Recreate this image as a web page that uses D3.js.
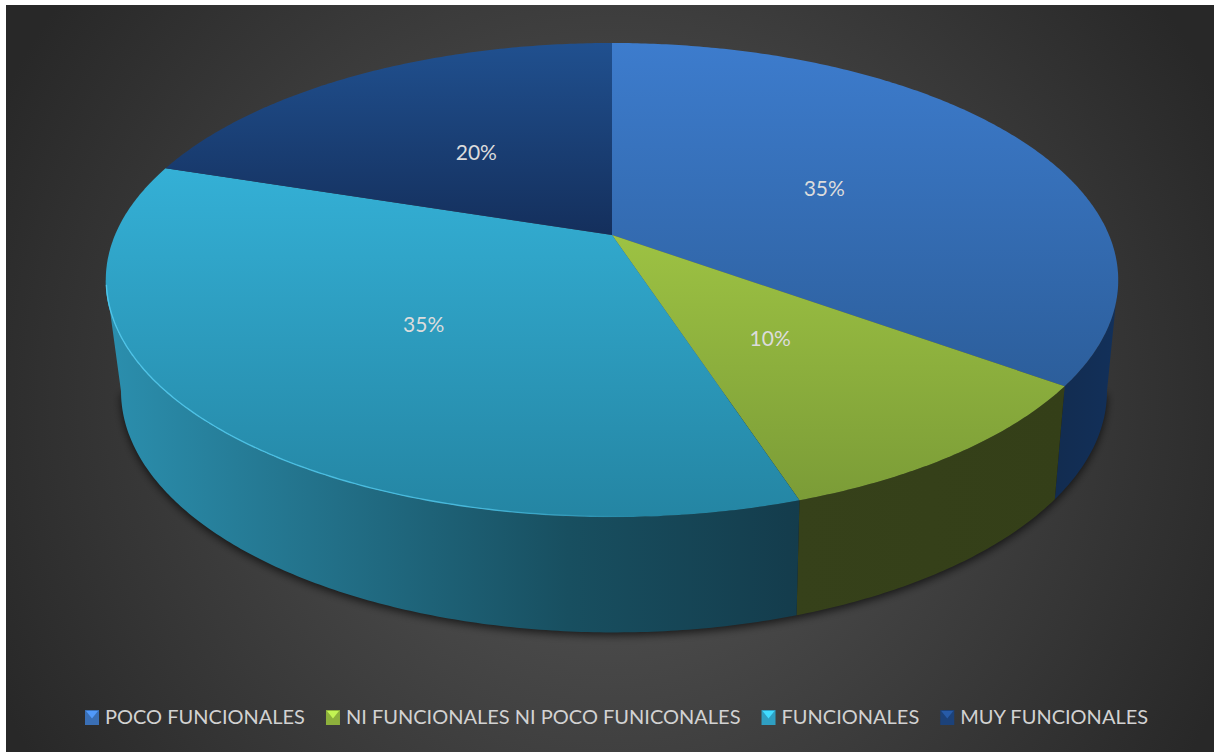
<!DOCTYPE html>
<html>
<head>
<meta charset="utf-8">
<script src="https://cdn.jsdelivr.net/npm/d3@7"></script>
<style>
  html, body { margin: 0; padding: 0; background: #fff; }
  svg { display: block; }
  text { font-family: Lato, "Open Sans", sans-serif; }
</style>
</head>
<body>
<svg id="chart" width="1214" height="752"></svg>
<script>
const categories = ["POCO FUNCIONALES", "NI FUNCIONALES NI POCO FUNICONALES", "FUNCIONALES", "MUY FUNCIONALES"];
const values = [35, 10, 35, 20];
const valueLabels = ["35%", "10%", "35%", "20%"];

const topColors = [["#3d7ccd", "#2c5e9b"], ["#9dc243", "#7b9c37"], ["#34b0d6", "#2485a3"], ["#20508f", "#142f5c"]];
const wallColors = [["#122c50", "#12305a"], ["#36411a", "#343f18"], ["#2b8fae", "#226f87", "#184f60", "#143c4c"], ["#142f5c", "#142f5c"]];
const swatchColors = ["#3a6fb5", "#8db03c", "#2f9fc2", "#1c427a"];

const width = 1214, height = 752;
const svg = d3.select("#chart");
const defs = svg.append("defs");

// background with the small white margin on top and left
const bg = defs.append("radialGradient").attr("id", "bg")
  .attr("gradientUnits", "userSpaceOnUse")
  .attr("cx", 610).attr("cy", 400).attr("r", 680);
bg.append("stop").attr("offset", 0).attr("stop-color", "#5a5a5a");
bg.append("stop").attr("offset", 1).attr("stop-color", "#282828");
svg.append("rect").attr("x", 6).attr("y", 5).attr("width", width - 6).attr("height", height - 5).attr("fill", "url(#bg)");

const blur = defs.append("filter").attr("id", "shadow").attr("x", "-10%").attr("y", "-10%").attr("width", "120%").attr("height", "120%");
blur.append("feGaussianBlur").attr("stdDeviation", 4);

// perspective view of the disc, top face and bottom face
const k = 0.19;
const topFace = { cx: 612, R: 497, H: 228.5, y0: 235 };
const baseFace = { cx: 614, R: 484, H: 232.4, y0: 345.5 };

function project(face, angle, f = 1) {
  const u = Math.sin(angle) * f, v = -Math.cos(angle) * f, d = 1 - k * v;
  return [face.cx + face.R * u / d, face.y0 + face.H * v / d];
}
function arcPoints(face, a, b) {
  const n = Math.max(2, Math.ceil((b - a) / 0.01));
  return d3.range(n + 1).map(i => project(face, a + (b - a) * i / n));
}

const line = d3.line();
const pie = d3.pie().sort(null);
const slices = pie(values);

const tangentR = Math.acos(-k), tangentL = 2 * Math.PI - tangentR;

function gradient(id, stops, x1, y1, x2, y2) {
  const g = defs.append("linearGradient").attr("id", id).attr("gradientUnits", "userSpaceOnUse")
    .attr("x1", x1).attr("y1", y1).attr("x2", x2).attr("y2", y2);
  stops.forEach((c, i) => g.append("stop").attr("offset", i / (stops.length - 1)).attr("stop-color", c));
}

// soft shadow below the disc
const outline = arcPoints(baseFace, tangentR, tangentL);
svg.append("path").attr("d", line(outline) + "Z")
  .attr("transform", "translate(0,3)")
  .attr("fill", "#000").attr("fill-opacity", 0.65).attr("filter", "url(#shadow)");

// outer walls
const walls = svg.append("g");
slices.forEach((s, i) => {
  const a = Math.max(s.startAngle, tangentR), b = Math.min(s.endAngle, tangentL);
  if (b <= a) return;
  const top = arcPoints(topFace, a, b), base = arcPoints(baseFace, a, b).reverse();
  const xs = top.concat(base).map(p => p[0]);
  gradient("wall" + i, wallColors[i], d3.min(xs), 0, d3.max(xs), 0);
  walls.append("path").attr("d", line(top.concat(base)) + "Z").attr("fill", `url(#wall${i})`);
});

// top faces
const tops = svg.append("g");
slices.forEach((s, i) => {
  const pts = arcPoints(topFace, s.startAngle, s.endAngle);
  const ys = pts.concat([[topFace.cx, topFace.y0]]).map(p => p[1]);
  gradient("top" + i, topColors[i], 0, d3.min(ys), 0, d3.max(ys));
  tops.append("path").attr("d", line(pts.concat([[topFace.cx, topFace.y0]])) + "Z")
    .attr("fill", `url(#top${i})`);
});

// light rim on the left of the cyan slice, fading out toward the front
const rimGrad = defs.append("linearGradient").attr("id", "rim").attr("gradientUnits", "userSpaceOnUse")
  .attr("x1", 105).attr("y1", 0).attr("x2", 640).attr("y2", 0);
rimGrad.append("stop").attr("offset", 0).attr("stop-color", "#4fc4e8").attr("stop-opacity", 1);
rimGrad.append("stop").attr("offset", 0.7).attr("stop-color", "#4fc4e8").attr("stop-opacity", 0.8);
rimGrad.append("stop").attr("offset", 1).attr("stop-color", "#4fc4e8").attr("stop-opacity", 0);
svg.append("path").attr("d", line(arcPoints({ ...topFace, R: topFace.R - 0.5, H: topFace.H - 0.5 }, slices[2].startAngle, tangentL - 0.02)))
  .attr("fill", "none").attr("stroke", "url(#rim)").attr("stroke-width", 1.4);

// value labels at half the radius of each slice
svg.append("g").selectAll("text").data(slices).join("text")
  .attr("x", d => project(topFace, (d.startAngle + d.endAngle) / 2, 0.5)[0])
  .attr("y", d => project(topFace, (d.startAngle + d.endAngle) / 2, 0.5)[1] + 2)
  .attr("text-anchor", "middle").attr("dominant-baseline", "central")
  .attr("font-size", 21).attr("fill", "#dcdcdc")
  .text((d, i) => valueLabels[i]);

// legend
const legend = svg.append("g");
let lx = 85;
const ly = 710, boxW = 14, boxH = 15;
categories.forEach((c, i) => {
  legend.append("rect").attr("x", lx).attr("y", ly).attr("width", boxW).attr("height", boxH).attr("fill", swatchColors[i]);
  legend.append("path").attr("d", line([[lx + 1, ly + 1], [lx + boxW - 1, ly + 1], [lx + boxW / 2, ly + boxH / 2 + 1]]) + "Z")
    .attr("fill", d3.color(swatchColors[i]).brighter(0.9));
  const t = legend.append("text").attr("x", lx + boxW + 6).attr("y", ly + 14)
    .attr("font-size", 20).attr("fill", "#d2d2d2").text(c);
  lx += boxW + 6 + t.node().getComputedTextLength() + 21;
});
</script>
</body>
</html>
